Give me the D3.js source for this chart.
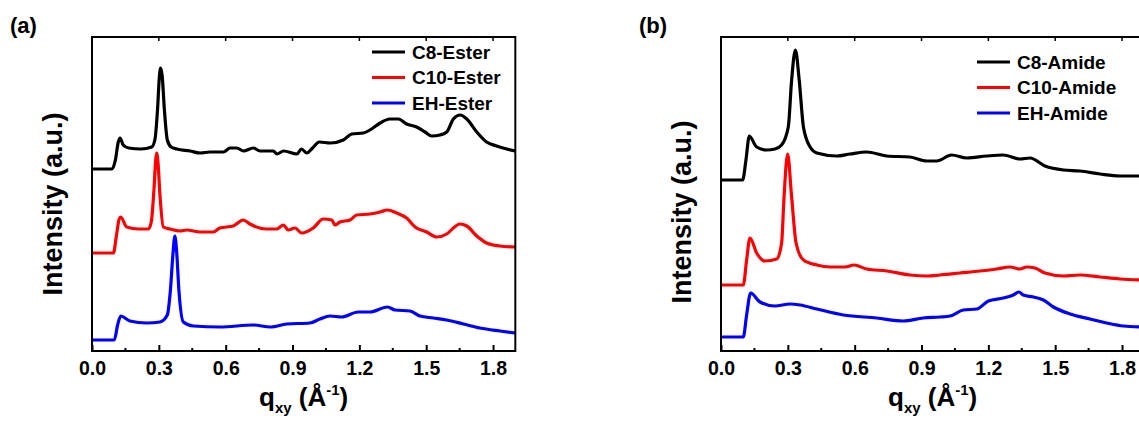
<!DOCTYPE html>
<html>
<head>
<meta charset="utf-8">
<script src="https://cdn.jsdelivr.net/npm/d3@7"></script>
<style>
  body { margin: 0; background: #fff; }
  svg { display: block; font-family: Arial, 'Liberation Sans', sans-serif; font-weight: bold; }
</style>
</head>
<body>
<svg id="chart" width="1139" height="422"></svg>
<script>
// q_xy tick values
const majorTicks = [0, 0.3, 0.6, 0.9, 1.2, 1.5, 1.8];
const minorTicks = [0.15, 0.45, 0.75, 1.05, 1.35, 1.65];

// [q, intensity (a.u., offset stacked)]
const c8Ester = [
  [0, 182], [0.09, 182], [0.105, 191], [0.118, 209], [0.126, 213], [0.14, 206],
  [0.165, 203], [0.22, 202], [0.268, 204], [0.282, 211], [0.294, 241], [0.302, 273],
  [0.308, 283], [0.315, 275], [0.325, 241], [0.338, 211], [0.355, 204], [0.38, 202],
  [0.44, 200], [0.485, 198], [0.53, 199], [0.59, 199], [0.62, 203], [0.65, 203],
  [0.68, 200], [0.724, 203], [0.754, 200], [0.814, 200], [0.83, 197], [0.86, 200],
  [0.92, 197], [0.94, 202], [0.964, 198], [0.99, 203], [1.02, 209], [1.07, 208],
  [1.128, 211], [1.166, 217], [1.218, 218], [1.255, 222], [1.293, 228], [1.337, 232],
  [1.375, 232], [1.412, 227], [1.457, 224], [1.495, 219], [1.525, 215], [1.562, 216],
  [1.592, 219], [1.622, 232], [1.652, 236], [1.682, 232], [1.727, 219], [1.771, 209],
  [1.816, 205], [1.861, 202], [1.9, 200]
];
const c10Ester = [
  [0, 98], [0.096, 98], [0.11, 116], [0.122, 132], [0.129, 134], [0.156, 124],
  [0.208, 122], [0.253, 122], [0.266, 129], [0.278, 161], [0.286, 191], [0.29, 198],
  [0.296, 189], [0.305, 156], [0.32, 124], [0.35, 122], [0.395, 120], [0.425, 121],
  [0.485, 119], [0.544, 119], [0.574, 123], [0.634, 125], [0.679, 131], [0.709, 127],
  [0.784, 122], [0.829, 122], [0.859, 126], [0.881, 121], [0.911, 123], [0.941, 118],
  [0.993, 123], [1.038, 132], [1.076, 131], [1.09, 126], [1.113, 129], [1.158, 131],
  [1.188, 136], [1.248, 137], [1.293, 139], [1.326, 141], [1.368, 138], [1.412, 133],
  [1.45, 124], [1.502, 119], [1.547, 114], [1.592, 117], [1.622, 123], [1.652, 127],
  [1.682, 125], [1.727, 115], [1.771, 108], [1.831, 105], [1.9, 104]
];
const ehEster = [
  [0, 11], [0.1, 11], [0.115, 26], [0.129, 35], [0.17, 30], [0.245, 28],
  [0.305, 29], [0.338, 36], [0.352, 61], [0.363, 96], [0.372, 115], [0.38, 99],
  [0.39, 61], [0.41, 29], [0.455, 25], [0.575, 24], [0.724, 26], [0.8, 24],
  [0.874, 27], [0.978, 28], [1.023, 32], [1.068, 35], [1.12, 34], [1.195, 39],
  [1.248, 39], [1.326, 44], [1.36, 41], [1.427, 40], [1.472, 35], [1.532, 33],
  [1.592, 31], [1.667, 27], [1.741, 23], [1.831, 20], [1.9, 18]
];
const c8Amide = [
  [0, 171], [0.097, 171], [0.112, 191], [0.127, 215], [0.16, 204], [0.205, 201],
  [0.242, 202], [0.272, 206], [0.302, 224], [0.317, 271], [0.334, 301], [0.351, 271],
  [0.37, 224], [0.4, 204], [0.43, 198], [0.52, 195], [0.579, 197], [0.654, 199],
  [0.744, 195], [0.848, 194], [0.923, 190], [0.968, 190], [1.035, 196], [1.103, 193],
  [1.192, 195], [1.267, 196], [1.342, 192], [1.387, 193], [1.454, 185], [1.537, 181],
  [1.611, 180], [1.701, 177], [1.791, 175], [1.9, 175]
];
const c10Amide = [
  [0, 66], [0.1, 66], [0.115, 91], [0.13, 113], [0.16, 98], [0.197, 90],
  [0.25, 92], [0.272, 108], [0.283, 154], [0.299, 197], [0.317, 154], [0.337, 108],
  [0.37, 91], [0.43, 86], [0.489, 84], [0.557, 84], [0.597, 86], [0.654, 82],
  [0.744, 80], [0.848, 76], [0.923, 75], [0.983, 76], [1.073, 78], [1.162, 80],
  [1.237, 82], [1.297, 84], [1.342, 82], [1.372, 84], [1.409, 83], [1.454, 78],
  [1.537, 75], [1.611, 76], [1.701, 74], [1.791, 72], [1.9, 71]
];
const ehAmide = [
  [0, 14], [0.1, 14], [0.115, 36], [0.133, 58], [0.175, 49], [0.242, 45],
  [0.31, 47], [0.355, 46], [0.43, 42], [0.549, 36], [0.699, 33], [0.818, 30],
  [0.908, 33], [0.983, 34], [1.028, 35], [1.088, 41], [1.148, 42], [1.2, 50],
  [1.267, 53], [1.312, 56], [1.337, 59], [1.357, 56], [1.402, 54], [1.447, 51],
  [1.492, 44], [1.567, 37], [1.656, 32], [1.731, 28], [1.806, 25], [1.9, 24]
];

const esterNames = ['C8-Ester', 'C10-Ester', 'EH-Ester'];
const amideNames = ['C8-Amide', 'C10-Amide', 'EH-Amide'];
const colors = ['#000000', '#ff0000', '#0000ff'];

const svg = d3.select('#chart');

function drawPanel(opts) {
  const { left, tag, names, series, legendX, legendY, labelY } = opts;
  const top = 37;
  const bottom = 351;
  const x = d3.scaleLinear().domain([0, 1.9]).range([left, left + 1.9 * 222.8]);
  const y = d3.scaleLinear().domain([0, 314]).range([bottom, top]);
  const right = x(1.9);

  const g = svg.append('g');

  // Curves
  const line = d3
    .line()
    .x(d => x(d[0]))
    .y(d => y(d[1]))
    .curve(d3.curveMonotoneX);

  g
    .selectAll('path.curve')
    .data(series)
    .enter()
    .append('path')
    .attr('class', 'curve')
    .attr('d', line)
    .attr('fill', 'none')
    .attr('stroke', (d, i) => colors[i])
    .attr('stroke-width', 3.2)
    .attr('stroke-linejoin', 'round');

  // Frame
  g
    .append('rect')
    .attr('x', left)
    .attr('y', top)
    .attr('width', right - left)
    .attr('height', bottom - top)
    .attr('fill', 'none')
    .attr('stroke', '#000')
    .attr('stroke-width', 2);

  // X-Axis (inward ticks)
  const xAxis = g
    .append('g')
    .attr('transform', `translate(0,${bottom})`)
    .call(
      d3.axisBottom(x)
        .tickValues(majorTicks)
        .tickSize(-6)
        .tickFormat(d3.format('.1f'))
    );
  xAxis.select('.domain').remove();
  xAxis.selectAll('line').attr('stroke-width', 2);
  xAxis
    .selectAll('text')
    .attr('font-size', 19.5)
    .attr('font-weight', 'bold')
    .attr('font-family', 'Arial, Liberation Sans, sans-serif')
    .attr('dy', 0)
    .attr('y', 23.5);

  g
    .append('g')
    .selectAll('line')
    .data(minorTicks)
    .enter()
    .append('line')
    .attr('x1', d => x(d))
    .attr('x2', d => x(d))
    .attr('y1', bottom)
    .attr('y2', bottom - 3)
    .attr('stroke', '#000')
    .attr('stroke-width', 2);

  // Top ticks
  g
    .append('g')
    .selectAll('line')
    .data(majorTicks.slice(1))
    .enter()
    .append('line')
    .attr('x1', d => x(d))
    .attr('x2', d => x(d))
    .attr('y1', top)
    .attr('y2', top + 4)
    .attr('stroke', '#000')
    .attr('stroke-width', 1.5);

  // X title
  const xt = g
    .append('text')
    .attr('x', (left + right) / 2)
    .attr('y', 406)
    .attr('text-anchor', 'middle')
    .attr('font-size', 26);
  xt.append('tspan').text('q');
  xt.append('tspan').attr('font-size', 15).attr('dy', 7).text('xy');
  xt.append('tspan').attr('dy', -7).text(' (Å');
  xt.append('tspan').attr('font-size', 15).attr('dy', -11).text('-1');
  xt.append('tspan').attr('dy', 11).text(')');

  // Y title
  g
    .append('text')
    .attr('transform', `translate(${left - 30},${labelY}) rotate(-90)`)
    .attr('text-anchor', 'middle')
    .attr('font-size', 27)
    .text('Intensity (a.u.)');

  // Panel tag
  g
    .append('text')
    .attr('x', left - 82)
    .attr('y', 33)
    .attr('font-size', 22)
    .text(tag);

  // Legend
  const legend = g
    .append('g')
    .selectAll('g')
    .data(names)
    .enter()
    .append('g')
    .attr('transform', (d, i) => `translate(${legendX}, ${legendY + i * 25.5})`);

  legend
    .append('line')
    .attr('x1', 0)
    .attr('x2', 33)
    .attr('stroke', (d, i) => colors[i])
    .attr('stroke-width', 3.2);

  legend
    .append('text')
    .attr('x', 40)
    .attr('dy', '0.36em')
    .attr('font-size', 19)
    .text(d => d);
}

drawPanel({
  left: 92,
  tag: '(a)',
  names: esterNames,
  series: [c8Ester, c10Ester, ehEster],
  legendX: 372,
  legendY: 52,
  labelY: 204
});

drawPanel({
  left: 721,
  tag: '(b)',
  names: amideNames,
  series: [c8Amide, c10Amide, ehAmide],
  legendX: 977,
  legendY: 62,
  labelY: 212
});
</script>
</body>
</html>
